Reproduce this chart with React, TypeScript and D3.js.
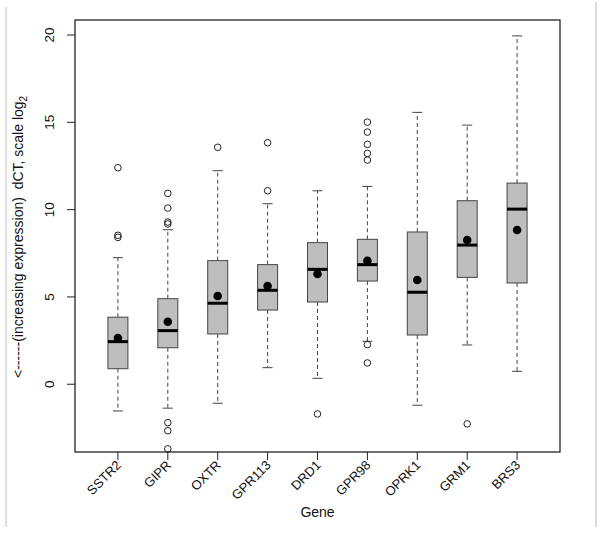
import React from "react";
import * as d3 from "d3";

const genes = ["SSTR2", "GIPR", "OXTR", "GPR113", "DRD1", "GPR98", "OPRK1", "GRM1", "BRS3"];
const whiskerLow = [-1.53, -1.37, -1.09, 0.95, 0.34, 2.46, -1.2, 2.25, 0.74];
const q1 = [0.89, 2.09, 2.88, 4.25, 4.71, 5.91, 2.82, 6.12, 5.8];
const medians = [2.44, 3.07, 4.64, 5.38, 6.58, 6.85, 5.27, 7.97, 10.03];
const q3 = [3.84, 4.9, 7.08, 6.85, 8.11, 8.3, 8.72, 10.51, 11.52];
const whiskerHigh = [7.25, 8.85, 12.23, 10.34, 11.08, 11.33, 15.57, 14.84, 19.95];
const means = [2.65, 3.58, 5.05, 5.63, 6.31, 7.07, 5.97, 8.26, 8.83];
const outliers = [
  [12.4, 8.53, 8.41],
  [10.93, 10.09, 9.29, 9.18, -2.2, -2.66, -3.7],
  [13.57],
  [13.83, 11.08],
  [-1.7],
  [15.01, 14.44, 13.74, 13.22, 12.84, 2.27, 1.22],
  [],
  [-2.27],
  [],
];
const yTicks = [0, 5, 10, 15, 20];

const W = 602;
const H = 534;
const left = 75;
const right = 560;
const top = 20;
const bottom = 452;

export default function App() {
  const x = d3.scaleLinear().domain([0.14, 9.86]).range([left, right]);
  const y = d3.scaleLinear().domain([-3.88, 20.86]).range([bottom, top]);
  const bw = 10;
  const cw = 5;
  const font = "'Liberation Sans', Arial, Helvetica, sans-serif";

  return (
    <svg
      width={W}
      height={H}
      style={{ position: "absolute", left: 0, top: 0, background: "#fff" }}
      fontFamily={font}
    >
      <rect x={0} y={0} width={W} height={H} fill="#fff" />
      <line x1={6} x2={6} y1={7} y2={527} stroke="#e2e2e2" strokeWidth={2.5} />
      <line x1={596} x2={596} y1={2} y2={527} stroke="#cfcfcf" strokeWidth={1.5} />

      {genes.map((g, i) => {
        const cx = x(i + 1);
        return (
          <g key={g}>
            <line x1={cx} x2={cx} y1={y(q3[i])} y2={y(whiskerHigh[i])} stroke="#444" strokeWidth={1} strokeDasharray="4,3" />
            <line x1={cx} x2={cx} y1={y(q1[i])} y2={y(whiskerLow[i])} stroke="#444" strokeWidth={1} strokeDasharray="4,3" />
            <line x1={cx - cw} x2={cx + cw} y1={y(whiskerHigh[i])} y2={y(whiskerHigh[i])} stroke="#444" strokeWidth={1} />
            <line x1={cx - cw} x2={cx + cw} y1={y(whiskerLow[i])} y2={y(whiskerLow[i])} stroke="#444" strokeWidth={1} />
            <rect
              x={cx - bw}
              y={y(q3[i])}
              width={bw * 2}
              height={y(q1[i]) - y(q3[i])}
              fill="#bebebe"
              stroke="#444"
              strokeWidth={1}
            />
            <line x1={cx - bw} x2={cx + bw} y1={y(medians[i])} y2={y(medians[i])} stroke="#000" strokeWidth={3} />
            {outliers[i].map((v, j) => (
              <circle key={j} cx={cx} cy={y(v)} r={3.3} fill="none" stroke="#222" strokeWidth={1} />
            ))}
            <circle cx={cx} cy={y(means[i])} r={4.3} fill="#000" />
            <line x1={cx} x2={cx} y1={bottom} y2={bottom + 8} stroke="#222" strokeWidth={1} />
            <text
              transform={`translate(${cx + 4},${bottom + 14}) rotate(-45)`}
              textAnchor="end"
              fontSize={13}
              fill="#111"
            >
              {g}
            </text>
          </g>
        );
      })}

      <rect x={left} y={top} width={right - left} height={bottom - top} fill="none" stroke="#111" strokeWidth={1.2} />

      {yTicks.map((t) => (
        <g key={t}>
          <line x1={left - 8} x2={left} y1={y(t)} y2={y(t)} stroke="#222" strokeWidth={1} />
          <text
            transform={`translate(${54},${y(t)}) rotate(-90)`}
            textAnchor="middle"
            fontSize={13.5}
            fill="#111"
          >
            {t}
          </text>
        </g>
      ))}

      <text
        transform={`translate(${23},${378}) rotate(-90)`}
        textAnchor="start"
        fontSize={14}
        fill="#111"
        style={{ whiteSpace: "pre" }}
      >
        {"<------(increasing expression)  dCT, scale log"}
        <tspan fontSize={10} dy={4}>2</tspan>
      </text>

      <text x={(left + right) / 2} y={517} textAnchor="middle" fontSize={14} fill="#111">
        Gene
      </text>
    </svg>
  );
}
